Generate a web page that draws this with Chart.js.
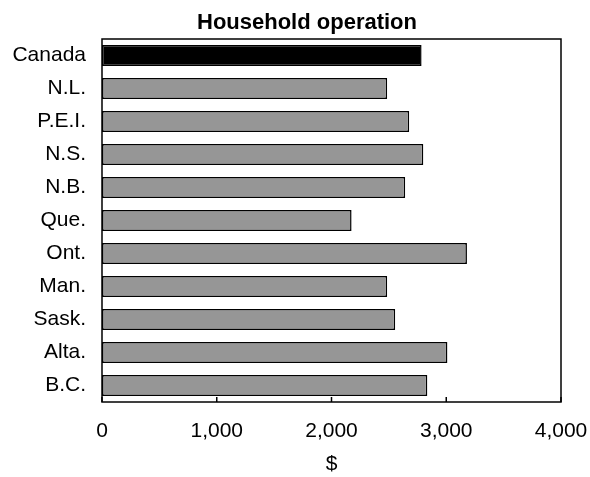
<!DOCTYPE html>
<html>
<head>
<meta charset="utf-8">
<script src="https://cdn.jsdelivr.net/npm/chart.js@4/dist/chart.umd.min.js"></script>
<style>
html,body{margin:0;padding:0;background:#fff;}
#wrap{width:590px;height:477px;}
</style>
</head>
<body>
<div id="wrap"><canvas id="c" width="590" height="477"></canvas></div>
<script>
const chartTitle = "Household operation";
const axisTitle = "$";
const categories = ["Canada","N.L.","P.E.I.","N.S.","N.B.","Que.","Ont.","Man.","Sask.","Alta.","B.C."];
const values = [2785,2485,2677,2800,2642,2175,3180,2485,2555,3010,2835];
const barColors = ["#000000","#969696","#969696","#969696","#969696","#969696","#969696","#969696","#969696","#969696","#969696"];
const xMin = 0, xMax = 4000, xStep = 1000;

const FONT = "'Liberation Sans', Arial, sans-serif";

const framePlugin = {
  id: 'frame',
  afterDraw(chart) {
    const ctx = chart.ctx;
    const a = chart.chartArea;
    const xs = chart.scales.x;
    ctx.save();
    ctx.strokeStyle = '#000';
    ctx.lineWidth = 1.5;
    ctx.strokeRect(a.left, a.top, a.right - a.left, a.bottom - a.top);
    xs.ticks.forEach((t, i) => {
      const px = xs.getPixelForTick(i);
      ctx.beginPath();
      ctx.moveTo(px, a.bottom);
      ctx.lineTo(px, a.bottom - 5);
      ctx.stroke();
    });
    ctx.fillStyle = '#000';
    ctx.font = "bold 22px " + FONT;
    ctx.textAlign = 'center';
    ctx.textBaseline = 'alphabetic';
    ctx.fillText(chartTitle, 307, 29);
    ctx.restore();
  }
};

new Chart(document.getElementById('c'), {
  type: 'bar',
  data: {
    labels: categories,
    datasets: [{
      data: values,
      backgroundColor: barColors,
      borderColor: '#000',
      borderWidth: 1.5,
      borderSkipped: false,
      barPercentage: 0.63,
      categoryPercentage: 1.0
    }]
  },
  options: {
    indexAxis: 'y',
    responsive: false,
    animation: false,
    devicePixelRatio: 1,
    layout: { padding: { left: 2, right: 29, top: 39, bottom: 0 } },
    plugins: { legend: { display: false }, title: { display: false }, tooltip: { enabled: false } },
    scales: {
      x: {
        min: xMin, max: xMax,
        ticks: {
          stepSize: xStep,
          color: '#000',
          font: { family: FONT, size: 21 },
          padding: 17,
          maxRotation: 0,
          autoSkip: false,
          callback: v => v.toLocaleString('en-US')
        },
        grid: { display: false, drawTicks: false },
        border: { display: false },
        title: { display: true, text: axisTitle, color: '#000', font: { family: FONT, size: 21 }, padding: { top: 0, bottom: 0 } },
        afterFit: s => { s.height = 75; s.paddingLeft = 0; s.paddingRight = 0; }
      },
      y: {
        ticks: { color: '#000', font: { family: FONT, size: 21 }, padding: 16 },
        grid: { display: false, drawTicks: false },
        border: { display: false },
        afterFit: s => { s.width = 100; s.paddingTop = 0; s.paddingBottom = 0; }
      }
    }
  },
  plugins: [framePlugin]
});
</script>
</body>
</html>
